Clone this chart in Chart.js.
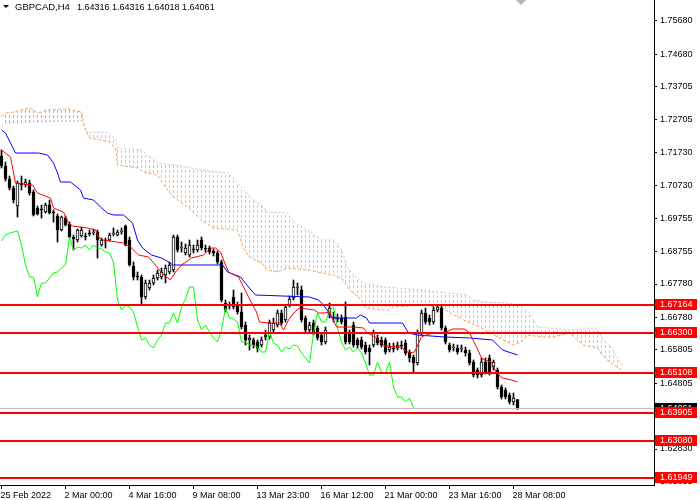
<!DOCTYPE html>
<html><head><meta charset="utf-8">
<script src="https://cdn.jsdelivr.net/npm/chart.js@4.4.1/dist/chart.umd.min.js"></script>
<style>html,body{margin:0;padding:0;background:#fff;}#wrap{width:700px;height:500px;position:relative;}</style>
</head><body><div id="wrap"><canvas id="c" width="700" height="500"></canvas></div>
<script>
const titleSymbol = 'GBPCAD,H4';
const titlePrices = '1.64316 1.64316 1.64018 1.64061';
const opens = [1.7162,1.7132,1.7093,1.7066,1.7012,1.7081,1.7075,1.7081,1.7054,1.7006,
1.7003,1.6994,1.7015,1.6994,1.6982,1.6940,1.6976,1.6958,1.6919,1.6910,
1.6922,1.6922,1.6931,1.6931,1.6934,1.6895,1.6910,1.6910,1.6928,1.6925,
1.6934,1.6952,1.6910,1.6832,1.6802,1.6799,1.6739,1.6766,1.6781,1.6796,
1.6799,1.6805,1.6814,1.6820,1.6919,1.6886,1.6871,1.6865,1.6883,1.6880,
1.6910,1.6886,1.6886,1.6877,1.6871,1.6844,1.6721,1.6712,1.6739,1.6715,
1.6694,1.6655,1.6610,1.6610,1.6604,1.6595,1.6619,1.6619,1.6640,1.6655,
1.6691,1.6670,1.6715,1.6736,1.6766,1.6760,1.6676,1.6640,1.6661,1.6646,
1.6625,1.6604,1.6685,1.6679,1.6676,1.6676,1.6679,1.6631,1.6655,1.6610,
1.6610,1.6595,1.6586,1.6595,1.6616,1.6610,1.6610,1.6580,1.6586,1.6586,
1.6595,1.6601,1.6574,1.6559,1.6541,1.6631,1.6691,1.6676,1.6664,1.6700,
1.6706,1.6646,1.6595,1.6586,1.6586,1.6583,1.6580,1.6571,1.6544,1.6520,
1.6505,1.6544,1.6556,1.6529,1.6520,1.6469,1.6460,1.6445,1.6424,1.64316];
const highs = [1.7180,1.7144,1.7102,1.7072,1.7087,1.7102,1.7093,1.7090,1.7060,1.7012,
1.7015,1.7021,1.7030,1.7000,1.6988,1.6982,1.6982,1.6964,1.6925,1.6943,
1.6949,1.6931,1.6940,1.6943,1.6940,1.6916,1.6916,1.6931,1.6946,1.6940,
1.6946,1.6955,1.6919,1.6844,1.6814,1.6805,1.6790,1.6790,1.6805,1.6820,
1.6826,1.6835,1.6844,1.6925,1.6925,1.6904,1.6898,1.6910,1.6895,1.6910,
1.6919,1.6895,1.6892,1.6883,1.6877,1.6850,1.6730,1.6724,1.6760,1.6724,
1.6751,1.6664,1.6625,1.6616,1.6610,1.6619,1.6640,1.6670,1.6676,1.6700,
1.6700,1.6715,1.6742,1.6790,1.6781,1.6772,1.6682,1.6664,1.6670,1.6652,
1.6631,1.6649,1.6721,1.6694,1.6688,1.6685,1.6724,1.6640,1.6664,1.6616,
1.6619,1.6604,1.6595,1.6640,1.6625,1.6619,1.6616,1.6601,1.6601,1.6604,
1.6607,1.6610,1.6580,1.6565,1.6640,1.6700,1.6706,1.6685,1.6709,1.6715,
1.6715,1.6652,1.6601,1.6598,1.6595,1.6595,1.6589,1.6580,1.6550,1.6526,
1.6556,1.6556,1.6565,1.6550,1.6526,1.6475,1.6466,1.6451,1.6451,1.64316];
const lows = [1.7126,1.7087,1.7060,1.7021,1.6979,1.7060,1.7069,1.7045,1.6982,1.6985,
1.6976,1.6991,1.6988,1.6964,1.6904,1.6937,1.6952,1.6916,1.6880,1.6904,
1.6919,1.6910,1.6922,1.6925,1.6856,1.6892,1.6886,1.6907,1.6922,1.6922,
1.6928,1.6892,1.6832,1.6790,1.6790,1.6715,1.6733,1.6760,1.6775,1.6790,
1.6793,1.6781,1.6808,1.6814,1.6874,1.6874,1.6865,1.6859,1.6871,1.6874,
1.6880,1.6874,1.6868,1.6862,1.6838,1.6724,1.6694,1.6703,1.6703,1.6688,
1.6643,1.6595,1.6580,1.6586,1.6574,1.6589,1.6610,1.6613,1.6634,1.6649,
1.6655,1.6664,1.6709,1.6730,1.6745,1.6664,1.6634,1.6631,1.6625,1.6610,
1.6595,1.6598,1.6676,1.6664,1.6664,1.6658,1.6598,1.6598,1.6589,1.6586,
1.6583,1.6568,1.6535,1.6589,1.6595,1.6589,1.6568,1.6574,1.6574,1.6580,
1.6583,1.6565,1.6544,1.6514,1.6535,1.6625,1.6658,1.6655,1.6658,1.6694,
1.6640,1.6598,1.6574,1.6577,1.6568,1.6574,1.6562,1.6535,1.6499,1.6496,
1.6499,1.6508,1.6505,1.6520,1.6463,1.6433,1.6433,1.6418,1.6415,1.64018];
const closes = [1.7132,1.7093,1.7066,1.7030,1.7081,1.7075,1.7084,1.7051,1.6985,1.6988,
1.7000,1.7015,1.6991,1.6991,1.6940,1.6979,1.6955,1.6919,1.6913,1.6940,
1.6940,1.6919,1.6928,1.6934,1.6910,1.6910,1.6907,1.6925,1.6931,1.6934,
1.6937,1.6895,1.6835,1.6799,1.6799,1.6739,1.6781,1.6781,1.6796,1.6811,
1.6814,1.6826,1.6835,1.6919,1.6880,1.6889,1.6886,1.6895,1.6880,1.6895,
1.6886,1.6883,1.6874,1.6871,1.6844,1.6730,1.6700,1.6715,1.6709,1.6694,
1.6649,1.6610,1.6616,1.6595,1.6586,1.6610,1.6625,1.6661,1.6661,1.6691,
1.6661,1.6709,1.6733,1.6769,1.6769,1.6670,1.6640,1.6655,1.6634,1.6616,
1.6604,1.6640,1.6706,1.6676,1.6673,1.6664,1.6604,1.6604,1.6595,1.6595,
1.6589,1.6574,1.6574,1.6634,1.6601,1.6595,1.6574,1.6589,1.6583,1.6595,
1.6592,1.6571,1.6556,1.6541,1.6631,1.6691,1.6664,1.6664,1.6700,1.6709,
1.6646,1.6604,1.6580,1.6589,1.6574,1.6586,1.6571,1.6541,1.6505,1.6505,
1.6544,1.6514,1.6511,1.6544,1.6469,1.6439,1.6439,1.6424,1.6436,1.64061];

const tenkanBars = [0,2.25,3.5,7.75,9,12.25,13,15.5,16.75,17.75,21.5,23.5,24.25,25.5,30.5,32.25,34.25,36.75,38.5,40,42.25,43.5,45,47.5,50.5,52.25,53.5,54.75,56,56.75,59.25,60.5,61.75,63.75,64.5,67,69.5,70.5,71.75,73.25,74.5,78.25,79.25,80.75,82,83.75,88,90.5,91.25,93.75,95.75,100,100.75,102,103.25,105,106.25,107.75,111.25,112.75,115.75,117,118.75,120,120.75,122.5,123.75,125.25,127.5,129];
const tenkanValues = [1.7180,1.7159,1.7081,1.7075,1.7051,1.7036,1.7006,1.6994,1.6961,1.6952,1.6946,1.6940,1.6919,1.6910,1.6901,1.6889,1.6865,1.6859,1.6835,1.6811,1.6790,1.6814,1.6835,1.6856,1.6865,1.6886,1.6886,1.6874,1.6835,1.6814,1.6799,1.6769,1.6739,1.6694,1.6664,1.6661,1.6661,1.6640,1.6670,1.6694,1.6706,1.6700,1.6691,1.6691,1.6694,1.6649,1.6649,1.6646,1.6634,1.6616,1.6592,1.6589,1.6580,1.6571,1.6574,1.6619,1.6625,1.6631,1.6634,1.6643,1.6643,1.6631,1.6589,1.6556,1.6550,1.6544,1.6511,1.6496,1.6490,1.6484];
const kijunBars = [0,1,3.5,9.25,11.5,13,14,14.75,17.25,19.75,20.5,23,24.75,26.5,28,30.5,32.75,34,35.25,37.5,40,42.25,42.75,55.25,56.5,59.75,61.75,63.5,77,79.25,80.5,81.75,82.5,88.75,89.75,91.25,92,100.25,101.75,104,110.75,117.25,122.75,125.25,127.5,129];
const kijunValues = [1.7240,1.7231,1.7171,1.7171,1.7165,1.7141,1.7111,1.7084,1.7084,1.7060,1.7036,1.7030,1.7009,1.6991,1.6985,1.6985,1.6961,1.6910,1.6886,1.6865,1.6856,1.6841,1.6835,1.6835,1.6814,1.6799,1.6769,1.6745,1.6739,1.6730,1.6715,1.6694,1.6676,1.6676,1.6685,1.6676,1.6661,1.6661,1.6631,1.6625,1.6619,1.6616,1.6610,1.6580,1.6571,1.6565];
const spanABars = [0,1,3,7,8,9,11.5,16.5,20,20.5,21,22,25,27,28.5,29,34,35.5,39,41,43,46.5,50,53,59,60.5,62,65,66.5,69,71.5,77,80,83,85.5,87,90,91,95,97,98,105.5,110,115.5,120,124,128,130,131.5,135,138,142,144,145.5,149,150.5,153,155];
const spanAValues = [1.7282,1.7291,1.7294,1.7306,1.7300,1.7291,1.7300,1.7303,1.7294,1.7264,1.7240,1.7216,1.7210,1.7204,1.7186,1.7135,1.7126,1.7114,1.7105,1.7069,1.7039,1.7009,1.6970,1.6946,1.6940,1.6886,1.6859,1.6841,1.6820,1.6814,1.6826,1.6820,1.6811,1.6805,1.6790,1.6760,1.6730,1.6706,1.6700,1.6700,1.6709,1.6715,1.6706,1.6670,1.6646,1.6619,1.6595,1.6604,1.6625,1.6619,1.6619,1.6631,1.6610,1.6595,1.6586,1.6559,1.6535,1.6520];
const spanBBars = [0,2.25,8,20,21,21.5,24,27,28.5,29,35,39,43,46.5,50,56.5,58,60,63,65.5,66.5,71.5,73,76.5,80,83,85,86.5,88,90.5,95.5,105.5,109,116.5,118,121.5,127,130,132,134,136.5,143,148,149,150.5,152,155];
const spanBValues = [1.7255,1.7261,1.7264,1.7267,1.7246,1.7231,1.7234,1.7231,1.7210,1.7186,1.7180,1.7141,1.7135,1.7129,1.7120,1.7111,1.7096,1.7066,1.7030,1.7009,1.6994,1.6991,1.6964,1.6940,1.6910,1.6910,1.6880,1.6829,1.6805,1.6781,1.6769,1.6760,1.6754,1.6745,1.6730,1.6724,1.6721,1.6709,1.6691,1.6649,1.6646,1.6640,1.6646,1.6640,1.6610,1.6595,1.6535];
const chikouShift = 26;

const yTickValues = [1.75680,1.74680,1.73705,1.72705,1.71730,1.70730,1.69755,1.68755,1.67780,1.66780,1.65805,1.64805,1.63830,1.62830,1.61855];
const xTickBars = [0,16,32,48,64,80,96,112,128];
const xTickLabels = ['25 Feb 2022','2 Mar 00:00','4 Mar 16:00','9 Mar 08:00','13 Mar 23:00','16 Mar 12:00','21 Mar 00:00','23 Mar 16:00','28 Mar 08:00'];
const levelValues = [1.67164,1.66300,1.65108,1.63905,1.63080,1.61949];
const currentPrice = 1.64061;

const FONT = '"Liberation Sans", Arial, sans-serif';
const ORANGE = '#f4a460', THISTLE = '#d8bfd8';
function hatch(color){
  const c = document.createElement('canvas'); c.width = 4; c.height = 5;
  const g = c.getContext('2d'); g.fillStyle = color; g.fillRect(1, 0, 1, 3);
  return g.createPattern(c, 'repeat');
}
const bars = opens.map((_, i) => i);
const pts = (xs, ys) => xs.map((x, k) => ({x: x, y: ys[k]}));

const overlay = {
  id: 'overlay',
  afterDatasetsDraw(chart){
    const ctx = chart.ctx, a = chart.chartArea, ys = chart.scales.y;
    ctx.save();
    const gy = Math.round(ys.getPixelForValue(currentPrice)) + 0.5;
    ctx.strokeStyle = '#c0c0c0'; ctx.lineWidth = 1;
    ctx.beginPath(); ctx.moveTo(a.left, gy); ctx.lineTo(a.right, gy); ctx.stroke();
    ctx.fillStyle = '#ff0000';
    levelValues.forEach(v => {
      const y = Math.round(ys.getPixelForValue(v));
      ctx.fillRect(a.left, y - 1, a.right - a.left, 2);
    });
    ctx.restore();
  },
  afterDraw(chart){
    const ctx = chart.ctx, a = chart.chartArea, ys = chart.scales.y;
    ctx.save();
    ctx.font = '9px ' + FONT; ctx.textBaseline = 'middle'; ctx.textAlign = 'left';
    const cy = Math.round(ys.getPixelForValue(currentPrice));
    ctx.fillStyle = '#000'; ctx.fillRect(a.right + 1, cy - 5, 42, 11);
    ctx.fillStyle = '#fff'; ctx.fillText(currentPrice.toFixed(5), a.right + 6, cy + 0.5);
    levelValues.forEach(v => {
      const y = Math.round(ys.getPixelForValue(v));
      ctx.fillStyle = '#ff0000'; ctx.fillRect(a.right + 1, y - 6, 42, 11);
      ctx.fillStyle = '#fff'; ctx.fillText(v.toFixed(5), a.right + 6, y);
    });
    ctx.fillStyle = '#000';
    ctx.beginPath(); ctx.moveTo(3,5); ctx.lineTo(9,5); ctx.lineTo(6,8); ctx.closePath(); ctx.fill();
    ctx.font = '9.5px ' + FONT; ctx.fillText(titleSymbol, 15, 7.5);
    ctx.font = '9px ' + FONT; ctx.fillText(titlePrices, 77, 7.5);
    ctx.fillStyle = '#b4b4b4';
    ctx.beginPath(); ctx.moveTo(516,0); ctx.lineTo(526,0); ctx.lineTo(521,5); ctx.closePath(); ctx.fill();
    ctx.restore();
  }
};

new Chart(document.getElementById('c'), {
  type: 'bar',
  data: { datasets: [
    { type: 'bar', label: 'body', data: bars.map(i => ({x: i, y: [opens[i], closes[i]]})),
      backgroundColor: c => (closes[c.dataIndex] >= opens[c.dataIndex] ? '#ffffff' : '#000000'),
      borderColor: '#000', borderWidth: 1, borderSkipped: false, barThickness: 3, minBarLength: 1, grouped: false, order: 1 },
    { type: 'bar', label: 'wick', data: bars.map(i => ({x: i, y: [lows[i], highs[i]]})),
      backgroundColor: '#000', borderWidth: 0, barThickness: 1, grouped: false, order: 2 },
    { type: 'line', label: 'spanA', data: pts(spanABars, spanAValues), borderColor: ORANGE, borderWidth: 1, borderDash: [3,2],
      pointRadius: 0, tension: 0, fill: { target: 3, above: hatch(ORANGE), below: hatch(THISTLE) }, order: 3 },
    { type: 'line', label: 'spanB', data: pts(spanBBars, spanBValues), borderColor: THISTLE, borderWidth: 1, borderDash: [2,2],
      pointRadius: 0, tension: 0, fill: false, order: 3 },
    { type: 'line', label: 'tenkan', data: pts(tenkanBars, tenkanValues), borderColor: '#ff0000', borderWidth: 1, pointRadius: 0, tension: 0, fill: false, order: 0 },
    { type: 'line', label: 'kijun', data: pts(kijunBars, kijunValues), borderColor: '#0000ff', borderWidth: 1, pointRadius: 0, tension: 0, fill: false, order: 0 },
    { type: 'line', label: 'chikou', data: closes.slice(chikouShift).map((v, j) => ({x: j, y: v})), borderColor: '#00ff00', borderWidth: 1, pointRadius: 0, tension: 0, fill: false, order: 0 }
  ]},
  options: {
    responsive: false, devicePixelRatio: 1, animation: false,
    layout: { padding: 0 },
    plugins: { legend: { display: false }, tooltip: { enabled: false } },
    scales: {
      x: { type: 'linear', min: -0.375, max: 163.125, offset: false,
        grid: { display: true, drawOnChartArea: false, drawTicks: true, tickLength: 4, color: '#000', offset: false },
        border: { display: true, color: '#000', width: 1 },
        ticks: { autoSkip: false, maxRotation: 0, minRotation: 0, align: 'start', padding: 1, labelOffset: -1, color: '#000',
          font: { family: FONT, size: 9 }, callback: (v, idx) => xTickLabels[idx] },
        afterBuildTicks: s => { s.ticks = xTickBars.map(v => ({value: v})); },
        afterFit: s => { s.height = 15; s.paddingLeft = 0; s.paddingRight = 0; } },
      y: { type: 'linear', position: 'right', min: 1.61750, max: 1.76301,
        grid: { display: true, drawOnChartArea: false, drawTicks: true, tickLength: 3, color: '#000' },
        border: { display: true, color: '#000', width: 1 },
        ticks: { padding: 3, color: '#000', font: { family: FONT, size: 9 }, callback: v => Number(v).toFixed(5) },
        afterBuildTicks: s => { s.ticks = yTickValues.map(v => ({value: v})); },
        afterFit: s => { s.width = 46; s.paddingTop = 0; s.paddingBottom = 0; } }
    }
  },
  plugins: [overlay]
});
</script></body></html>
